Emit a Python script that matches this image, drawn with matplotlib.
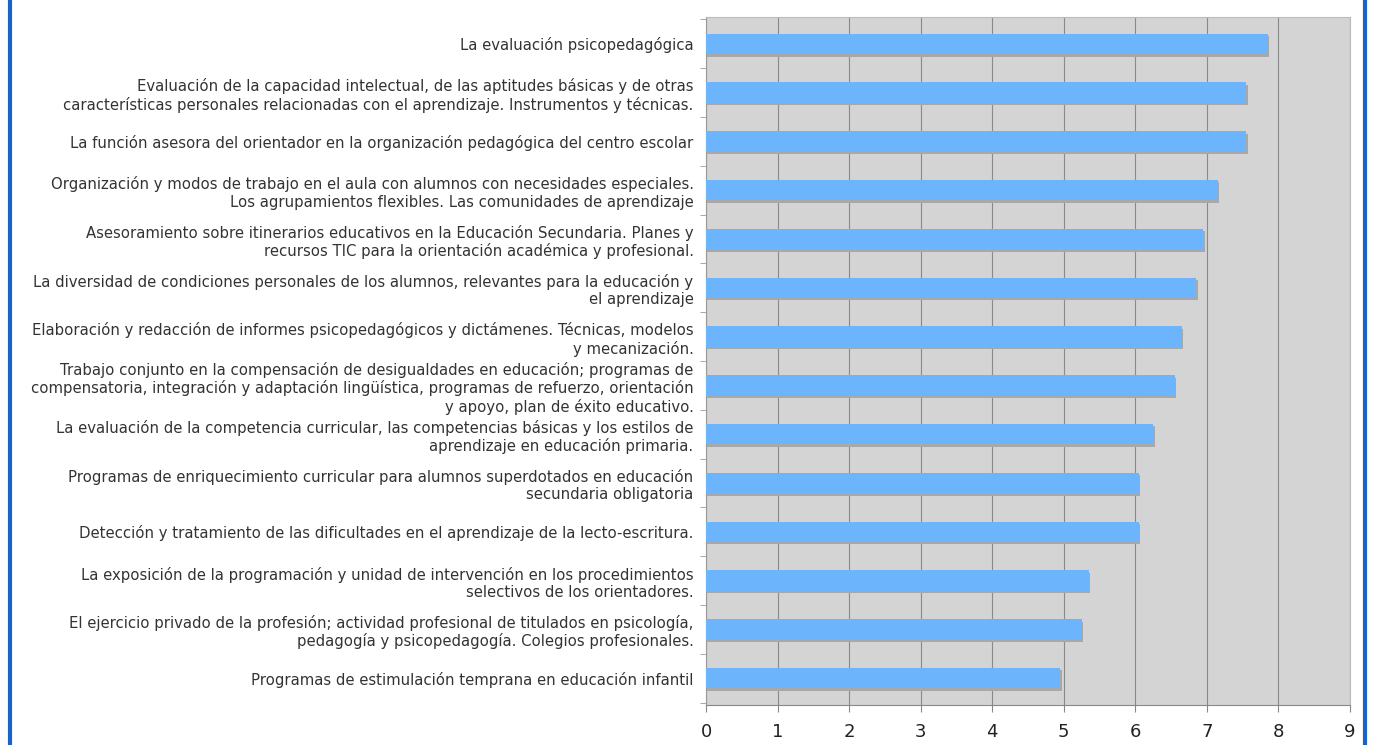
import matplotlib
matplotlib.use("Agg")
import matplotlib.pyplot as plt
from matplotlib.lines import Line2D
import numpy as np

categories = [
    "La evaluación psicopedagógica",
    "Evaluación de la capacidad intelectual, de las aptitudes básicas y de otras\ncaracterísticas personales relacionadas con el aprendizaje. Instrumentos y técnicas.",
    "La función asesora del orientador en la organización pedagógica del centro escolar",
    "Organización y modos de trabajo en el aula con alumnos con necesidades especiales.\nLos agrupamientos flexibles. Las comunidades de aprendizaje",
    "Asesoramiento sobre itinerarios educativos en la Educación Secundaria. Planes y\nrecursos TIC para la orientación académica y profesional.",
    "La diversidad de condiciones personales de los alumnos, relevantes para la educación y\nel aprendizaje",
    "Elaboración y redacción de informes psicopedagógicos y dictámenes. Técnicas, modelos\ny mecanización.",
    "Trabajo conjunto en la compensación de desigualdades en educación; programas de\ncompensatoria, integración y adaptación lingüística, programas de refuerzo, orientación\ny apoyo, plan de éxito educativo.",
    "La evaluación de la competencia curricular, las competencias básicas y los estilos de\naprendizaje en educación primaria.",
    "Programas de enriquecimiento curricular para alumnos superdotados en educación\nsecundaria obligatoria",
    "Detección y tratamiento de las dificultades en el aprendizaje de la lecto-escritura.",
    "La exposición de la programación y unidad de intervención en los procedimientos\nselectivos de los orientadores.",
    "El ejercicio privado de la profesión; actividad profesional de titulados en psicología,\npedagogía y psicopedagogía. Colegios profesionales.",
    "Programas de estimulación temprana en educación infantil",
]
values = [7.85, 7.55, 7.55, 7.15, 6.95, 6.85, 6.65, 6.55, 6.25, 6.05, 6.05, 5.35, 5.25, 4.95]
xticks = [0, 1, 2, 3, 4, 5, 6, 7, 8, 9]

fig = plt.figure(figsize=(13.75, 7.45), dpi=100)
fig.patch.set_facecolor("white")
ax = fig.add_axes([706/1375, 1-705/745, (1350-706)/1375, (705-17)/745])
ax.set_facecolor("#d4d4d4")

y = np.arange(len(categories))
# shadow
ax.barh(y + 0.05, values, height=0.42, left=0.02, color="#a8a8a8", zorder=2)
ax.barh(y, values, height=0.42, color="#6cb4fc", zorder=3)

ax.set_xlim(0, 9)
ax.set_ylim(len(categories) - 0.45, -0.55)
ax.set_xticks(xticks)
ax.set_xticklabels([str(t) for t in xticks], fontsize=13, color="#222222")
ax.xaxis.grid(True, color="#8a8a8a", linewidth=0.8, zorder=1)
ax.set_axisbelow(True)
ax.tick_params(axis="x", length=5, color="#888888", pad=8)

ax.set_yticks(y)
ax.set_yticklabels(categories, fontsize=10.7, color="#333333", linespacing=1.2)
ax.tick_params(axis="y", length=0, pad=9)
ax.set_yticks(np.arange(len(categories) + 1) - 0.5, minor=True)
ax.tick_params(axis="y", which="minor", length=4, color="#999999")

for s in ["top", "right"]:
    ax.spines[s].set_color("#bbbbbb")
ax.spines["left"].set_color("#999999")
ax.spines["bottom"].set_color("#888888")

# blue frame
fig.add_artist(Line2D([10/1375, 10/1375], [0, 1], transform=fig.transFigure, color="#1a62c4", linewidth=3))
fig.add_artist(Line2D([1365/1375, 1365/1375], [0, 1], transform=fig.transFigure, color="#1a62c4", linewidth=3))

fig.savefig("out.png", dpi=100, facecolor="white")
